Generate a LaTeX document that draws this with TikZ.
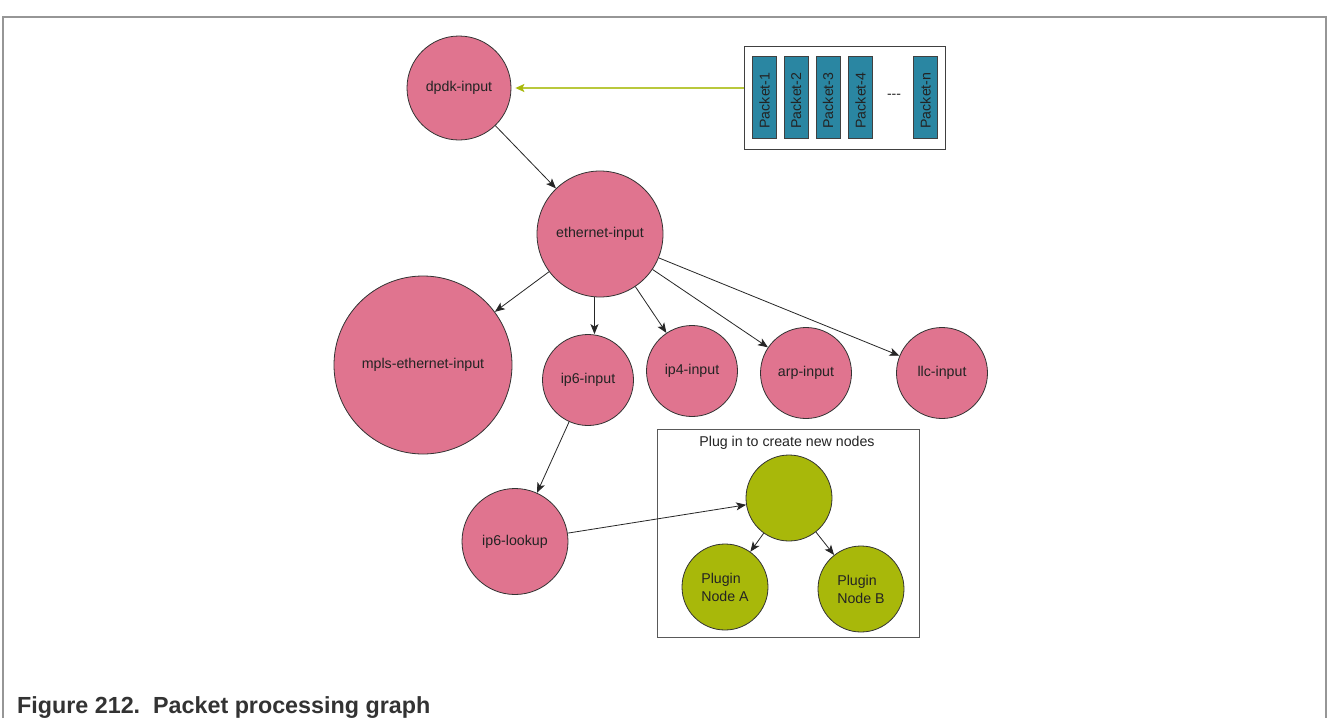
\documentclass[tikz,border=0pt]{standalone}
\usepackage{fontspec}
\setmainfont{Liberation Sans}
\newfontfamily\nolig{Liberation Sans}[Ligatures=TeXOff]
\usetikzlibrary{arrows.meta,calc}
\definecolor{pinkc}{RGB}{224,116,143}
\definecolor{greenc}{RGB}{168,184,10}
\definecolor{tealc}{RGB}{42,134,162}
\definecolor{txt}{RGB}{35,35,35}
\definecolor{framec}{RGB}{150,150,150}
\definecolor{feedc}{RGB}{185,200,60}
\begin{document}
\begin{tikzpicture}[x=1pt,y=-1pt,
  lbl/.style={font=\fontsize{14.2}{18}\selectfont, text=txt},
  gnode/.style={circle, draw=black!80, line width=0.8pt, inner sep=0pt, lbl, minimum size=#1},
  pnode/.style={gnode=#1, fill=pinkc},
  qnode/.style={gnode=#1, fill=greenc},
  arr/.style={draw=black!85, line width=0.8pt, -{Stealth[length=10pt,width=8pt,inset=2.5pt]}},
  packet/.style={rectangle, draw=black!75, line width=0.8pt, fill=tealc, minimum width=24pt, minimum height=82pt, inner sep=0pt},
  ptext/.style={lbl, rotate=90}
]
\useasboundingbox (0,0) rectangle (1328,718);
\fill[white] (0,0) rectangle (1328,718);
% outer frame
\draw[framec, line width=1.5pt] (3,718) -- (3,17) -- (1326,17) -- (1326,718);

% packet box
\node[draw=black!75, line width=1pt, minimum width=201pt, minimum height=103pt, inner sep=0pt] (pk) at (844.5,97.5) {};
\node[packet] (p1) at (764.5,97.5) {};
\node[packet] (p2) at (796,97.5) {};
\node[packet] (p3) at (828,97.5) {};
\node[packet] (p4) at (860.5,97.5) {};
\node[packet] (pn) at (925.5,97.5) {};
\node[ptext] (t1) at ($(p1)+(0,3)$) {Packet-1};
\node[ptext] (t2) at ($(p2)+(0,3)$) {Packet-2};
\node[ptext] (t3) at ($(p3)+(0,3)$) {Packet-3};
\node[ptext] (t4) at ($(p4)+(0,3)$) {Packet-4};
\node[ptext] (tn) at ($(pn)+(0,3)$) {Packet-n};
\node[lbl, font=\nolig\fontsize{14}{16}\selectfont] (dots) at (894,96) {---};

% plugin box
\node[draw=black!65, line width=1pt, minimum width=262pt, minimum height=208pt, inner sep=0pt] (plug) at (788,533) {};
\node[lbl] (plugt) at (787,443) {Plug in to create new nodes};

% graph nodes
\node[pnode=104pt] (dpdk) at (459,88) {dpdk-input};
\node[pnode=126pt] (eth) at (600,234) {ethernet-input};
\node[pnode=178pt] (mpls) at (423,365) {mpls-ethernet-input};
\node[pnode=91pt] (ip6) at (588,380) {ip6-input};
\node[pnode=91pt] (ip4) at (692,371) {ip4-input};
\node[pnode=91pt] (arp) at (806,373) {arp-input};
\node[pnode=91pt] (llc) at (942,373) {llc-input};
\node[pnode=106pt] (lookup) at (515,541.5) {ip6-lookup};
\node[qnode=86pt] (gtop) at (789,498) {};
\node[qnode=86pt, align=left] (pa) at (725,587) {Plugin\\Node A};
\node[qnode=86pt, align=left] (pb) at (861,589) {Plugin\\Node B};

% connectors
\draw[draw=feedc, line width=1.3pt, -{Stealth[length=9pt,width=8pt,inset=2pt,color=greenc]}, shorten >=4pt] (dpdk.east -| pk.west) -- (dpdk.east);
\draw[arr] (dpdk) -- (eth);
\draw[arr] (eth) -- (mpls);
\draw[arr] (eth.-95) -- (eth.-95 |- ip6.north);
\draw[arr] (eth) -- (ip4);
\draw[arr] (eth) -- (arp);
\draw[arr] (eth) -- (llc);
\draw[arr] (ip6) -- (lookup);
\draw[arr] (lookup) -- (gtop);
\draw[arr] (gtop) -- (pa);
\draw[arr] (gtop) -- (pb);

% caption
\node[anchor=base west, inner sep=0pt, font=\bfseries\fontsize{23.3}{27}\selectfont, text=black!80] (cap) at (17,713) {Figure 212.\ \ Packet processing graph};
\end{tikzpicture}
\end{document}
